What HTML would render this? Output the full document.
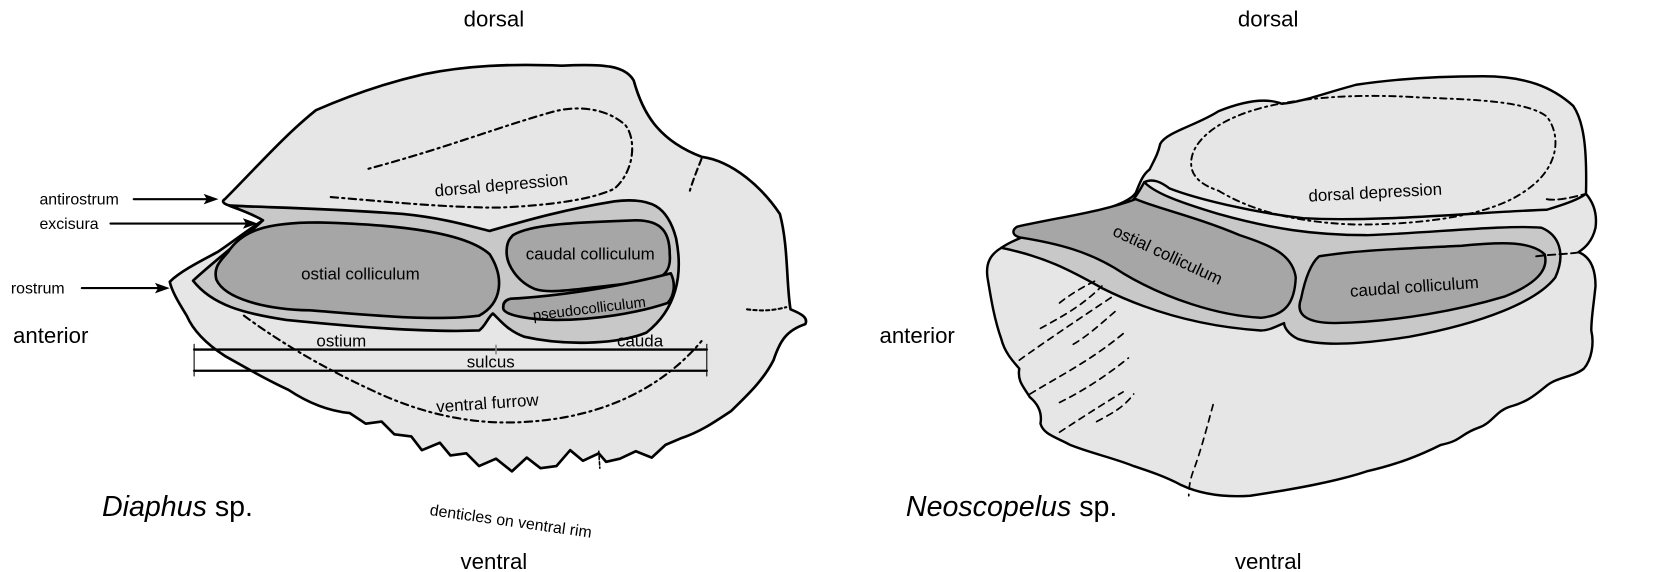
<!DOCTYPE html>
<html><head><meta charset="utf-8"><style>
html,body{margin:0;padding:0;background:#fff;}
svg{display:block;font-family:"Liberation Sans",Arial,sans-serif;}
</style></head><body>
<svg width="1653" height="572" viewBox="0 0 1560 540" xmlns="http://www.w3.org/2000/svg">
<g stroke="#000" stroke-linejoin="round" stroke-linecap="round">
<!-- LEFT OTOLITH -->
<path fill="#e6e6e6" stroke-width="2.5" d="M212,188 C240,160 268,128 298,104 C330,90 365,78 400,70 C440,62 480,60 530,62 C570,60 590,62 598,76 C606,105 620,132 662,148 C692,152 720,178 736,202 C744,232 742,268 746,292 C756,296 763,300 760,306 C742,312 736,322 730,340 C720,360 702,376 690,388 C672,400 660,408 642,414 L628,420 L615,432 L600,426 L585,433 L572,436 L565,428 L550,435 L538,425 L525,440 L510,442 L497,432 L483,445 L468,433 L452,440 L440,428 L425,430 L415,418 L398,425 L388,412 L372,410 L360,398 L345,400 L330,390 C310,388 290,380 272,368 C250,358 230,346 212,336 C195,325 182,312 176,298 C168,285 162,275 160,266 C170,256 190,246 205,238 C220,228 235,216 248,208 C238,200 224,198 216,194 C210,192 209,190 212,188 Z"/>
<path fill="#c8c8c8" stroke-width="2.5" d="M216,194 C250,196 300,196 380,202 C420,206 445,214 462,218 C490,210 530,198 580,190 C615,186 630,195 638,225 C645,260 638,292 610,314 C580,326 530,326 495,318 C478,312 470,300 465,296 C460,300 458,308 452,312 C400,314 330,308 270,302 C230,296 200,288 182,265 C200,248 222,232 248,208 C238,202 226,198 216,194 Z"/>
<path fill="#a6a6a6" stroke-width="2.5" d="M215,238 C228,218 250,210 300,210 C380,212 440,220 462,240 C476,262 474,286 452,298 C405,304 335,296 292,293 C250,292 212,282 204,264 C201,252 208,246 215,238 Z"/>
<path fill="#a6a6a6" stroke-width="2.5" d="M484,222 C500,212 540,210 600,208 C625,208 632,220 632,240 C634,262 620,266 590,268 C550,272 520,278 505,273 C488,266 478,250 478,238 C478,230 480,226 484,222 Z"/>
<path fill="#a6a6a6" stroke-width="2.5" d="M482,282 C520,280 580,272 633,258 C638,268 636,280 630,286 C600,296 560,302 525,302 C500,302 478,298 475,292 C474,286 477,283 482,282 Z"/>
<line x1="183" y1="330" x2="667" y2="330" stroke-width="2.2"/>
<line x1="183" y1="350" x2="667" y2="350" stroke-width="2.2"/>
<line x1="183" y1="325" x2="183" y2="355" stroke-width="1"/>
<line x1="667" y1="325" x2="667" y2="355" stroke-width="1"/>
<line x1="468" y1="326" x2="468" y2="334" stroke="#888" stroke-width="1.5"/>
<path fill="none" stroke-width="2" stroke-dasharray="7,4,2,4" d="M312,186 C360,190 420,196 470,196 C520,194 560,188 580,178 C600,160 600,130 590,118 C570,100 540,100 520,106 C470,120 420,140 345,160"/>
<path fill="none" stroke-width="2" stroke-dasharray="7,4,2,4" d="M230,298 C260,320 300,345 350,368 C400,392 450,402 500,398 C560,394 620,372 662,322"/>
<path fill="none" stroke-width="2" stroke-dasharray="6,4" d="M662,150 C658,160 654,170 651,180"/>
<path fill="none" stroke-width="2" stroke-dasharray="3,3" d="M705,292 C720,294 730,293 742,290"/>
<line x1="565" y1="426" x2="566" y2="442" stroke-width="1.5" stroke-dasharray="3,2"/>
<g stroke-width="2">
<line x1="126" y1="188" x2="196" y2="188"/><line x1="104" y1="211" x2="232" y2="211"/><line x1="77" y1="272" x2="150" y2="272"/>
</g>
<g stroke="none" fill="#000">
<path d="M206,188 L192,183 L195,188 L192,193Z"/><path d="M243,211 L229,206 L232,211 L229,216Z"/><path d="M160,272 L146,267 L149,272 L146,277Z"/>
</g>

<!-- RIGHT OTOLITH -->
<path fill="#e6e6e6" stroke-width="2.3" d="M1095,136 C1100,125 1130,118 1150,105 C1175,95 1195,92 1210,98 C1230,96 1250,88 1280,80 C1320,74 1360,72 1400,72 C1440,72 1465,82 1485,100 C1495,115 1498,140 1497,183 C1503,190 1508,200 1506,215 C1503,228 1496,234 1490,238 C1500,242 1506,252 1506,270 C1504,290 1502,300 1502,312 C1505,325 1502,340 1495,348 C1485,356 1470,356 1460,364 C1448,374 1440,380 1425,384 C1412,388 1408,400 1395,404 C1378,410 1380,416 1360,420 C1340,430 1320,438 1290,445 C1260,455 1220,462 1180,468 C1150,470 1130,465 1115,458 C1100,450 1085,445 1070,440 C1050,432 1030,428 1010,420 C995,412 985,410 982,400 C984,388 978,380 972,375 C966,365 960,360 962,348 C955,340 948,332 945,320 C938,300 935,280 932,262 C930,248 935,240 945,234 C960,226 990,214 1030,202 C1060,192 1068,188 1072,182 C1075,175 1078,165 1085,160 C1090,150 1093,145 1095,136 Z"/>
<path fill="#c8c8c8" stroke-width="2.3" d="M945,234 C965,220 1010,210 1050,200 C1068,195 1072,186 1080,172 C1090,182 1110,190 1150,202 C1200,216 1240,222 1290,222 C1350,220 1420,212 1455,215 C1472,222 1478,240 1468,262 C1450,285 1400,305 1330,318 C1290,324 1250,328 1225,320 C1215,315 1212,308 1212,305 C1205,308 1198,312 1190,312 C1130,308 1080,292 1040,272 C1010,255 985,242 945,234 Z"/>
<path fill="#a6a6a6" stroke-width="2.3" d="M960,214 C1000,205 1040,200 1072,188 C1090,196 1130,205 1170,222 C1200,232 1220,240 1223,262 C1222,285 1214,298 1190,300 C1150,298 1100,282 1060,258 C1030,238 1000,230 962,224 C955,222 955,217 960,214 Z"/>
<path fill="#a6a6a6" stroke-width="2.3" d="M1245,242 C1280,236 1340,234 1380,232 C1420,228 1445,228 1458,240 C1462,255 1450,268 1420,280 C1380,292 1320,304 1260,305 C1235,305 1222,298 1228,282 C1232,262 1238,248 1245,242 Z"/>
<path fill="none" stroke-width="2.3" d="M1080,172 C1088,168 1096,172 1104,178 C1130,188 1180,200 1230,206 C1300,210 1400,200 1460,198 C1480,192 1490,188 1497,183"/>
<path fill="none" stroke-width="1.8" stroke-dasharray="6,4,2,4" d="M1150,180 C1180,198 1220,210 1280,212 C1350,212 1410,202 1440,180 C1470,160 1475,130 1460,110 C1440,95 1390,94 1340,92 C1280,88 1220,92 1180,105 C1140,118 1120,140 1125,160 C1128,170 1138,176 1150,180"/>
<path fill="none" stroke-width="1.8" stroke-dasharray="7,4" d="M1460,188 C1470,190 1485,186 1497,183"/>
<path fill="none" stroke-width="1.8" stroke-dasharray="7,4" d="M1450,242 C1465,240 1480,240 1492,238"/>
<g fill="none" stroke-width="1.6" stroke-dasharray="6,5">
<path d="M1000,286 C1010,278 1020,272 1034,265"/>
<path d="M982,310 C1000,300 1020,290 1040,270"/>
<path d="M962,340 C990,320 1020,300 1050,280"/>
<path d="M1013,325 C1030,315 1045,300 1055,292"/>
<path d="M972,372 C1000,355 1030,340 1060,315"/>
<path d="M1000,380 C1020,370 1040,358 1065,338"/>
<path d="M1035,398 C1050,390 1060,385 1070,372"/>
<path d="M1000,408 C1020,395 1040,382 1060,370"/>
<path d="M1145,382 C1140,400 1135,420 1128,440 C1124,450 1122,458 1122,468"/>
</g>
</g>

<g fill="#000">
<text x="466" y="25" font-size="21" text-anchor="middle">dorsal</text>
<text x="1197" y="25" font-size="21" text-anchor="middle">dorsal</text>
<text x="466" y="537" font-size="21" text-anchor="middle">ventral</text>
<text x="1197" y="537" font-size="21" text-anchor="middle">ventral</text>
<text x="12" y="324" font-size="21">anterior</text>
<text x="830" y="324" font-size="21">anterior</text>
<text x="96" y="487" font-size="27"><tspan font-style="italic">Diaphus</tspan> sp.</text>
<text x="855" y="487" font-size="27"><tspan font-style="italic">Neoscopelus</tspan> sp.</text>
<text x="37" y="193" font-size="15">antirostrum</text>
<text x="37" y="216" font-size="15">excisura</text>
<text x="10" y="277" font-size="15">rostrum</text>
<text x="473" y="180" font-size="16" text-anchor="middle" transform="rotate(-5 473 175)">dorsal depression</text>
<text x="340" y="264" font-size="16" text-anchor="middle">ostial colliculum</text>
<text x="557" y="245" font-size="16" text-anchor="middle">caudal colliculum</text>
<text x="556" y="296" font-size="14" text-anchor="middle" transform="rotate(-7 556 291)">pseudocolliculum</text>
<text x="322" y="327" font-size="16" text-anchor="middle">ostium</text>
<text x="604" y="327" font-size="16" text-anchor="middle">cauda</text>
<text x="463" y="347" font-size="16" text-anchor="middle">sulcus</text>
<text x="460" y="386" font-size="16" text-anchor="middle" transform="rotate(-4 460 382)">ventral furrow</text>
<text x="482" y="497" font-size="15" text-anchor="middle" transform="rotate(8 482 492)">denticles on ventral rim</text>
<text x="1298" y="187" font-size="16" text-anchor="middle" transform="rotate(-3 1298 182)">dorsal depression</text>
<text x="1102" y="246" font-size="16" text-anchor="middle" transform="rotate(25 1102 241)">ostial colliculum</text>
<text x="1335" y="276" font-size="16" text-anchor="middle" transform="rotate(-4 1335 271)">caudal colliculum</text>
</g>
</svg>
</body></html>
